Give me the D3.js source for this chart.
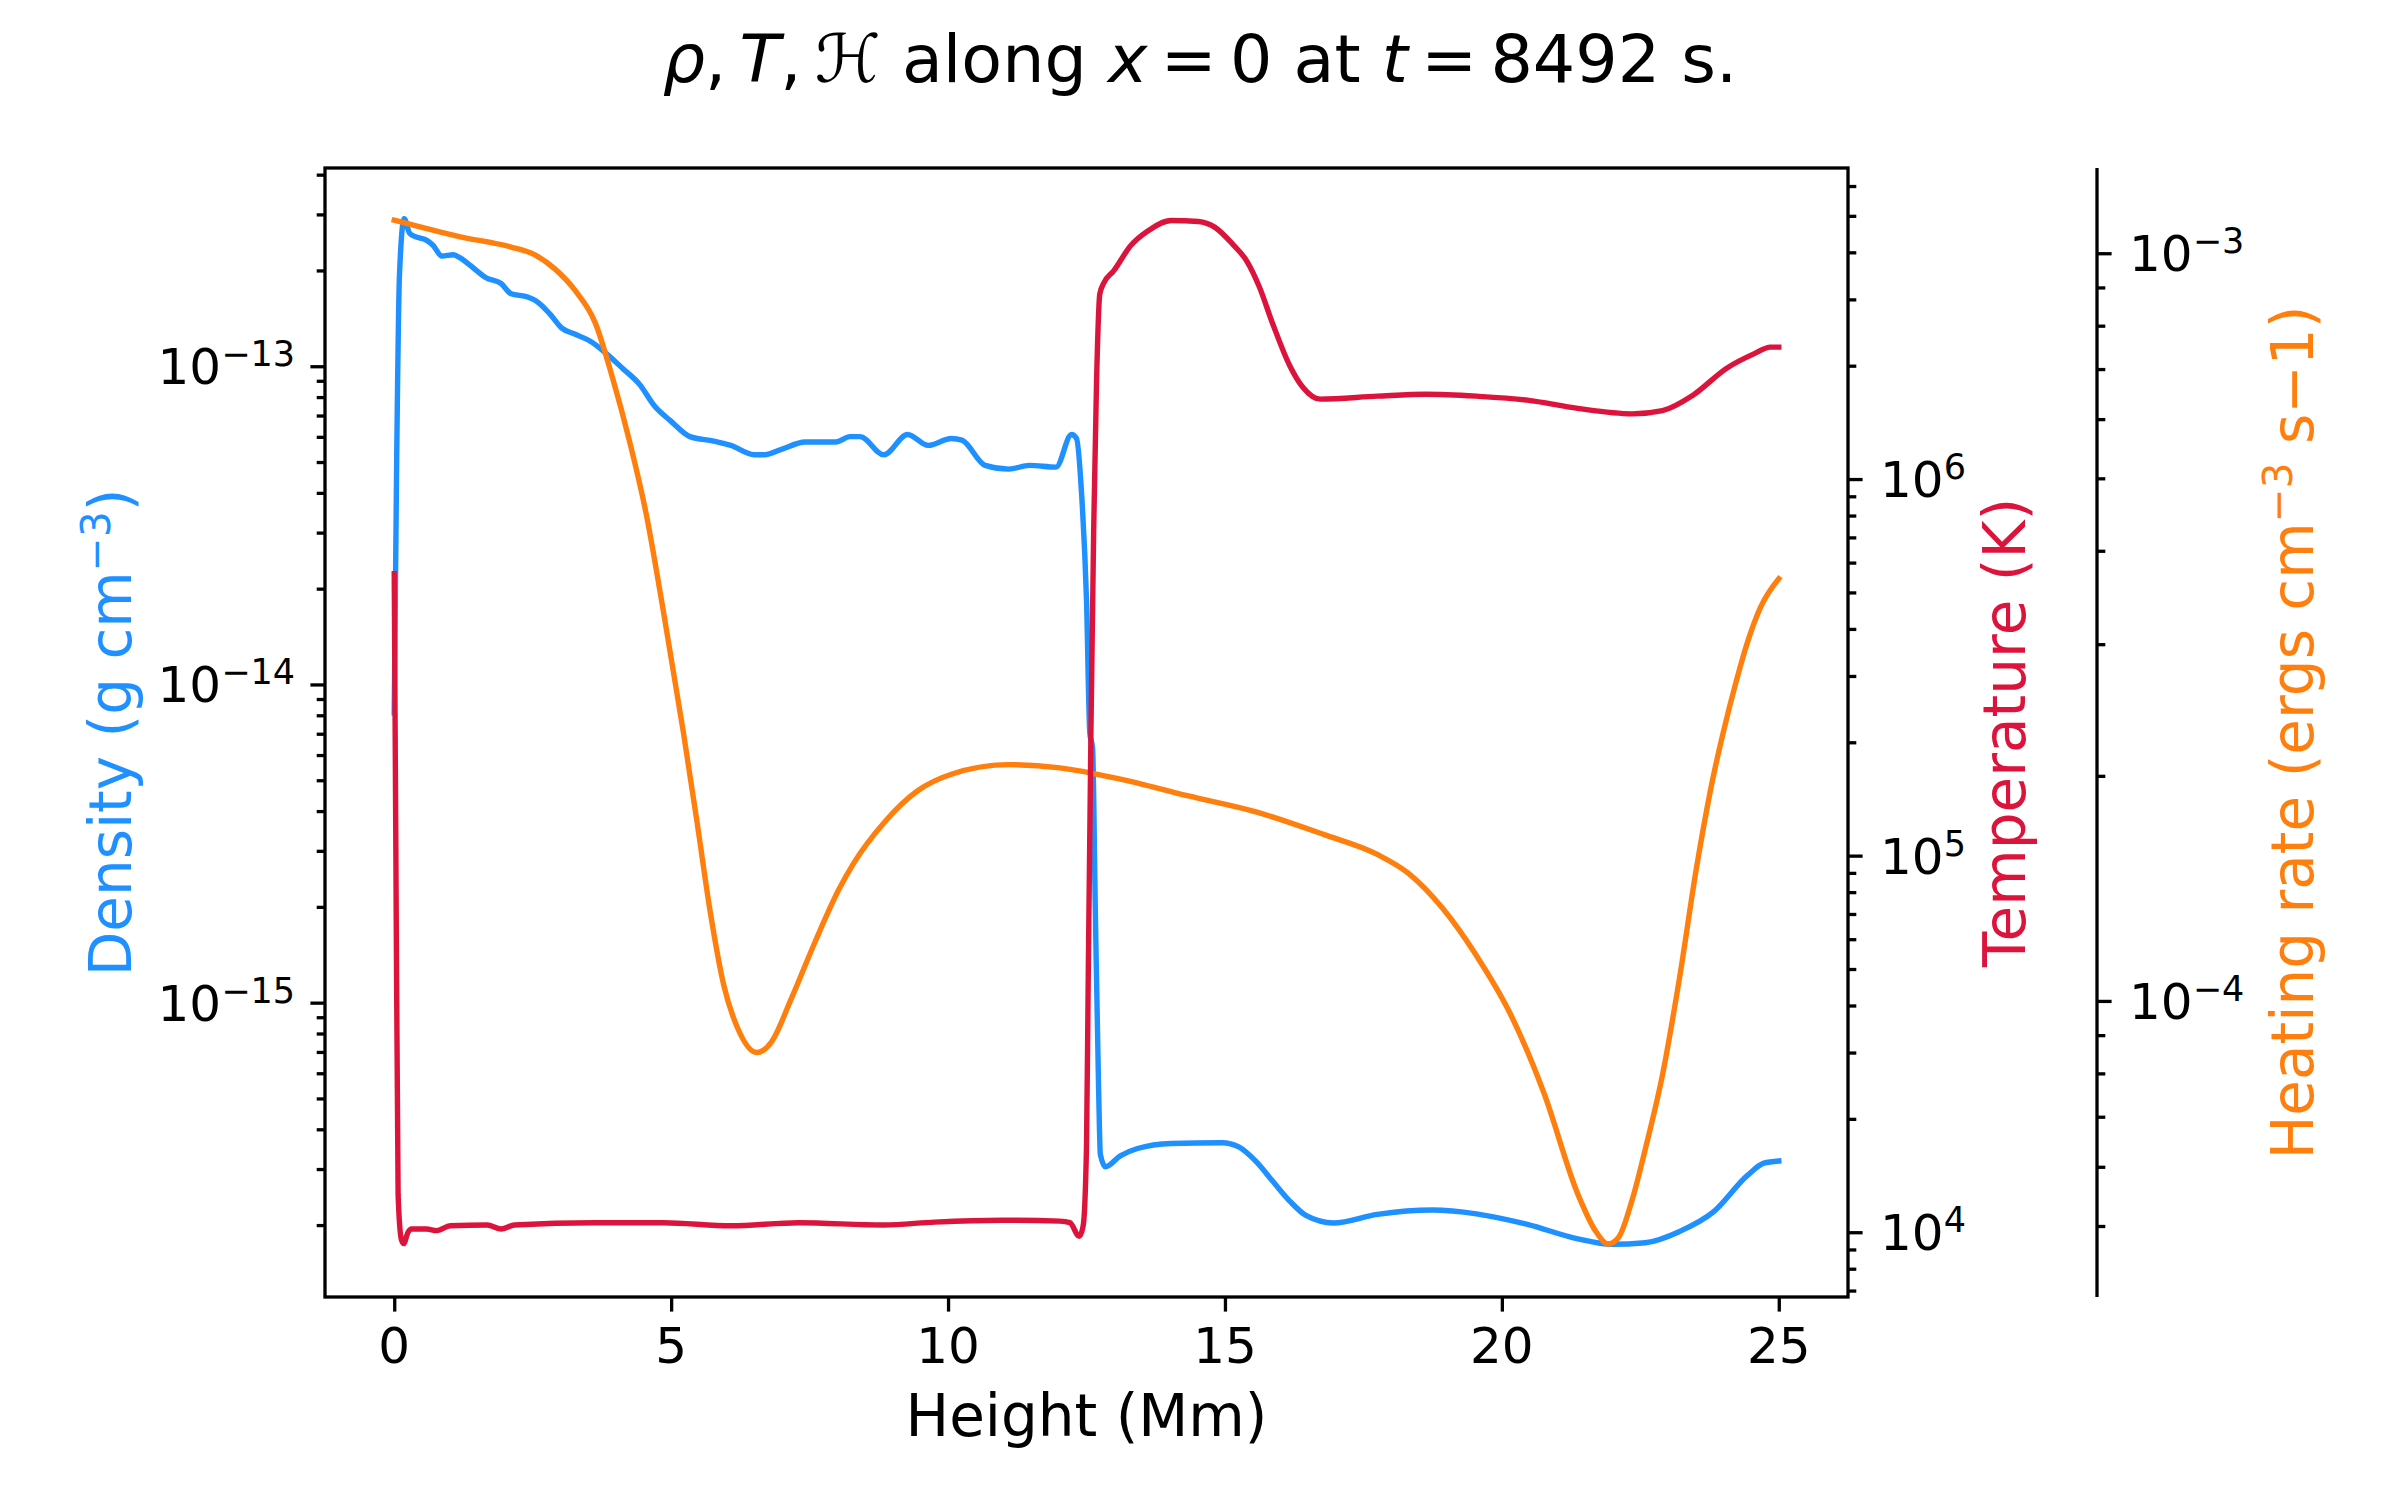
<!DOCTYPE html>
<html><head><meta charset="utf-8">
<script src="https://cdn.jsdelivr.net/npm/d3@7"></script>
<style>
body{margin:0;background:#fff}
svg{display:block}
text{font-family:"DejaVu Sans",sans-serif;fill:#000}
</style>
</head><body>
<svg id="chart" width="2400" height="1500"></svg>
<script>
// ---------- data ----------
const heightDensity = [0,0.045,0.094,0.18,0.276,0.37,0.58,0.70,0.86,1.07,1.19,1.38,1.50,1.65,1.93,2.11,2.41,2.57,2.81,3.02,3.27,3.57,3.82,4.12,4.43,4.70,4.98,5.34,5.77,6.08,6.50,6.69,6.99,7.42,7.97,8.23,8.41,8.84,9.27,9.64,10.06,10.25,10.67,11.10,11.47,11.95,12.23,12.32,12.41,12.50,12.56,12.61,12.66,12.72,12.75,12.84,13.11,13.42,14.03,14.95,15.25,15.56,15.86,16.17,16.47,16.96,17.75,18.75,19.54,20.46,21.37,21.98,22.59,23.21,23.82,24.43,24.73,25.0];
const density = [8.15e-15,5.22e-14,1.92e-13,2.91e-13,2.62e-13,2.56e-13,2.49e-13,2.40e-13,2.22e-13,2.24e-13,2.19e-13,2.07e-13,1.99e-13,1.90e-13,1.82e-13,1.69e-13,1.65e-13,1.60e-13,1.46e-13,1.32e-13,1.26e-13,1.19e-13,1.10e-13,9.86e-14,8.77e-14,7.50e-14,6.76e-14,6.01e-14,5.82e-14,5.64e-14,5.27e-14,5.27e-14,5.48e-14,5.78e-14,5.78e-14,6.01e-14,6.01e-14,5.27e-14,6.10e-14,5.64e-14,5.93e-14,5.86e-14,4.88e-14,4.75e-14,4.88e-14,4.82e-14,6.10e-14,5.93e-14,4.01e-14,1.84e-14,7.03e-15,6.3e-15,1.92e-15,5.20e-16,3.34e-16,3.05e-16,3.30e-16,3.48e-16,3.61e-16,3.63e-16,3.52e-16,3.17e-16,2.75e-16,2.38e-16,2.14e-16,2.03e-16,2.16e-16,2.23e-16,2.17e-16,2.01e-16,1.81e-16,1.74e-16,1.76e-16,1.91e-16,2.20e-16,2.86e-16,3.13e-16,3.18e-16];

const heightTemperature = [0,0.03,0.07,0.13,0.17,0.25,0.31,0.58,0.77,1.01,1.68,1.93,2.17,3.63,4.86,6.08,7.30,8.84,9.76,10.98,12.02,12.20,12.37,12.44,12.50,12.53,12.58,12.63,12.68,12.74,12.81,12.99,13.30,13.60,14.03,14.52,14.82,15.13,15.40,15.62,15.86,16.17,16.41,16.72,17.75,18.63,19.54,20.46,21.37,22.35,22.90,23.45,24.06,24.55,24.85,25.0];
const temperature = [5.61e5,1.0e5,1.26e4,9.55e3,9.33e3,1.0e4,1.02e4,1.02e4,1.01e4,1.04e4,1.045e4,1.02e4,1.045e4,1.06e4,1.06e4,1.04e4,1.06e4,1.045e4,1.064e4,1.076e4,1.07e4,1.06e4,9.75e3,1.04e4,1.69e4,4.55e4,2.13e5,7.40e5,1.78e6,3.10e6,3.31e6,3.57e6,4.17e6,4.55e6,4.86e6,4.83e6,4.66e6,4.22e6,3.78e6,3.24e6,2.59e6,2.0e6,1.75e6,1.63e6,1.66e6,1.68e6,1.66e6,1.62e6,1.54e6,1.49e6,1.52e6,1.67e6,1.97e6,2.15e6,2.24e6,2.24e6];

const heightHeating = [0,1.19,2.11,2.54,2.90,3.27,3.63,3.94,4.25,4.55,4.86,5.22,5.47,5.71,5.95,6.20,6.55,6.81,7.17,7.60,8.03,8.30,8.84,9.45,10.06,11.10,12.02,13.11,14.34,15.56,16.78,17.75,18.32,18.93,19.54,20.15,20.76,21.37,21.68,21.92,22.11,22.35,22.60,22.90,23.21,23.51,23.82,24.00,24.24,24.43,24.67,25.0];
const heating = [1.107e-3,1.052e-3,1.019e-3,9.95e-4,9.53e-4,8.91e-4,8.07e-4,6.82e-4,5.60e-4,4.48e-4,3.32e-4,2.29e-4,1.73e-4,1.31e-4,1.05e-4,9.20e-5,8.53e-5,8.81e-5,1.007e-4,1.20e-4,1.41e-4,1.53e-4,1.73e-4,1.91e-4,2.01e-4,2.07e-4,2.05e-4,1.98e-4,1.88e-4,1.79e-4,1.67e-4,1.57e-4,1.48e-4,1.33e-4,1.15e-4,9.62e-5,7.53e-5,5.52e-5,4.94e-5,4.73e-5,4.83e-5,5.41e-5,6.38e-5,7.96e-5,1.076e-4,1.50e-4,2.00e-4,2.29e-4,2.69e-4,3.01e-4,3.36e-4,3.67e-4];

const xTicks = [0,5,10,15,20,25];
const densityTicks = [1e-15,1e-14,1e-13];
const temperatureTicks = [1e4,1e5,1e6];
const heatingTicks = [1e-4,1e-3];

const titleParts = [["ρ",true],[",\u2009",false],["T",true],[",\u2009",false],["ℋ",false],[" along ",false],["x",true],["\u2009=\u20090 at ",false],["t",true],["\u2009=\u20098492 s.",false]];

// ---------- layout ----------
const W = 2400, H = 1500;
const L = 325, R = 1848, T = 168, B = 1297;
const AX3 = 2097;
const cBlue = "#1e90ff", cRed = "#dc143c", cOrange = "#ff7f0e";
const tickFont = 50, supFont = 35, labelFont = 58, titleFont = 66.7;
const spineW = 3.3, majorLen = 14.6, minorLen = 8.3, lineW = 5.4;

const svg = d3.select("#chart");
svg.append("rect").attr("width",W).attr("height",H).attr("fill","#fff");

const x = d3.scaleLinear().domain([-1.25, 26.25]).range([L, R]);
const yD = d3.scaleLog().domain([Math.pow(10,-15.925), Math.pow(10,-12.377)]).range([B, T]);
const yT = d3.scaleLog().domain([Math.pow(10,3.828), Math.pow(10,6.826)]).range([B, T]);
const yH = d3.scaleLog().domain([Math.pow(10,-4.396), Math.pow(10,-2.886)]).range([B, T]);

function minors(scale){
  const [a,b] = scale.domain();
  const out = [];
  for(let d=Math.floor(Math.log10(a)); d<=Math.ceil(Math.log10(b)); d++){
    for(let k=2;k<=9;k++){ const v=k*Math.pow(10,d); if(v>=a && v<=b) out.push(v); }
  }
  return out;
}

function drawTicks(g, axisFn, scale, majors){
  const gm = g.append("g").call(axisFn(scale).tickValues(majors).tickSize(majorLen).tickFormat(""));
  const gn = g.append("g").call(axisFn(scale).tickValues(minors(scale)).tickSize(minorLen).tickFormat(""));
  [gm,gn].forEach(s=>{ s.select(".domain").remove(); s.selectAll("line").attr("stroke","#000").attr("stroke-width",spineW); });
}

function sciLabel(g, v, xp, yp, anchor){
  const e = Math.round(Math.log10(v));
  const t = g.append("text").attr("x",xp).attr("y",yp).attr("text-anchor",anchor).attr("font-size",tickFont);
  t.append("tspan").text("10");
  t.append("tspan").attr("font-size",supFont).attr("dy",-18).text(String(e).replace("-","\u2212"));
}

// clip
svg.append("defs").append("clipPath").attr("id","clip").append("rect")
  .attr("x",L).attr("y",T).attr("width",R-L).attr("height",B-T);

// lines
const plot = svg.append("g").attr("clip-path","url(#clip)");
function addLine(xs, ys, yScale, color){
  const data = xs.map((d,i)=>[d, ys[i]]);
  plot.append("path").datum(data)
    .attr("fill","none").attr("stroke",color).attr("stroke-width",lineW)
    .attr("stroke-linejoin","round").attr("stroke-linecap","square")
    .attr("d", d3.line().x(d=>x(d[0])).y(d=>yScale(d[1])).curve(d3.curveMonotoneX));
}
addLine(heightDensity, density, yD, cBlue);
addLine(heightHeating, heating, yH, cOrange);
addLine(heightTemperature, temperature, yT, cRed);

// spines
svg.append("rect").attr("x",L).attr("y",T).attr("width",R-L).attr("height",B-T)
  .attr("fill","none").attr("stroke","#000").attr("stroke-width",spineW);
svg.append("line").attr("x1",AX3).attr("x2",AX3).attr("y1",T).attr("y2",B)
  .attr("stroke","#000").attr("stroke-width",spineW);

// x axis
const gx = svg.append("g").attr("transform",`translate(0,${B})`);
gx.call(d3.axisBottom(x).tickValues(xTicks).tickSize(majorLen).tickFormat(""));
gx.select(".domain").remove();
gx.selectAll("line").attr("stroke","#000").attr("stroke-width",spineW);
xTicks.forEach(v=>{
  svg.append("text").attr("x",x(v)).attr("y",1363).attr("text-anchor","middle").attr("font-size",tickFont).text(v);
});
svg.append("text").attr("x",(L+R)/2).attr("y",1436).attr("text-anchor","middle").attr("font-size",labelFont).text("Height (Mm)");

// left density axis
const gl = svg.append("g").attr("transform",`translate(${L},0)`);
drawTicks(gl, d3.axisLeft, yD, densityTicks);
densityTicks.forEach(v=> sciLabel(svg, v, 295, yD(v)+18, "end"));
const dl = svg.append("text").attr("transform",`translate(131,${(T+B)/2}) rotate(-90)`)
  .attr("text-anchor","middle").attr("font-size",labelFont).style("fill",cBlue);
dl.append("tspan").text("Density (g cm");
dl.append("tspan").attr("font-size",labelFont*0.7).attr("dy",-21).text("\u22123");
dl.append("tspan").attr("dy",21).text(")");

// right temperature axis
const gr = svg.append("g").attr("transform",`translate(${R},0)`);
drawTicks(gr, d3.axisRight, yT, temperatureTicks);
temperatureTicks.forEach(v=> sciLabel(svg, v, 1880, yT(v)+18, "start"));
svg.append("text").attr("transform",`translate(2025,${(T+B)/2}) rotate(-90)`)
  .attr("text-anchor","middle").attr("font-size",labelFont).style("fill",cRed).text("Temperature (K)");

// third heating axis
const g3 = svg.append("g").attr("transform",`translate(${AX3},0)`);
drawTicks(g3, d3.axisRight, yH, heatingTicks);
heatingTicks.forEach(v=> sciLabel(svg, v, 2129, yH(v)+18, "start"));
const hl = svg.append("text").attr("transform",`translate(2313,${(T+B)/2}) rotate(-90)`)
  .attr("text-anchor","middle").attr("font-size",labelFont).style("fill",cOrange);
hl.append("tspan").text("Heating rate (ergs cm");
hl.append("tspan").attr("font-size",labelFont*0.7).attr("dy",-21).text("\u22123");
hl.append("tspan").attr("dy",21).text(" s\u22121)");

// title
const tt = svg.append("text").attr("x",1200).attr("y",82).attr("text-anchor","middle").attr("font-size",titleFont);
titleParts.forEach(([s,it])=>{ const sp = tt.append("tspan").text(s); if(it) sp.attr("font-style","italic"); });
</script>
</body></html>
